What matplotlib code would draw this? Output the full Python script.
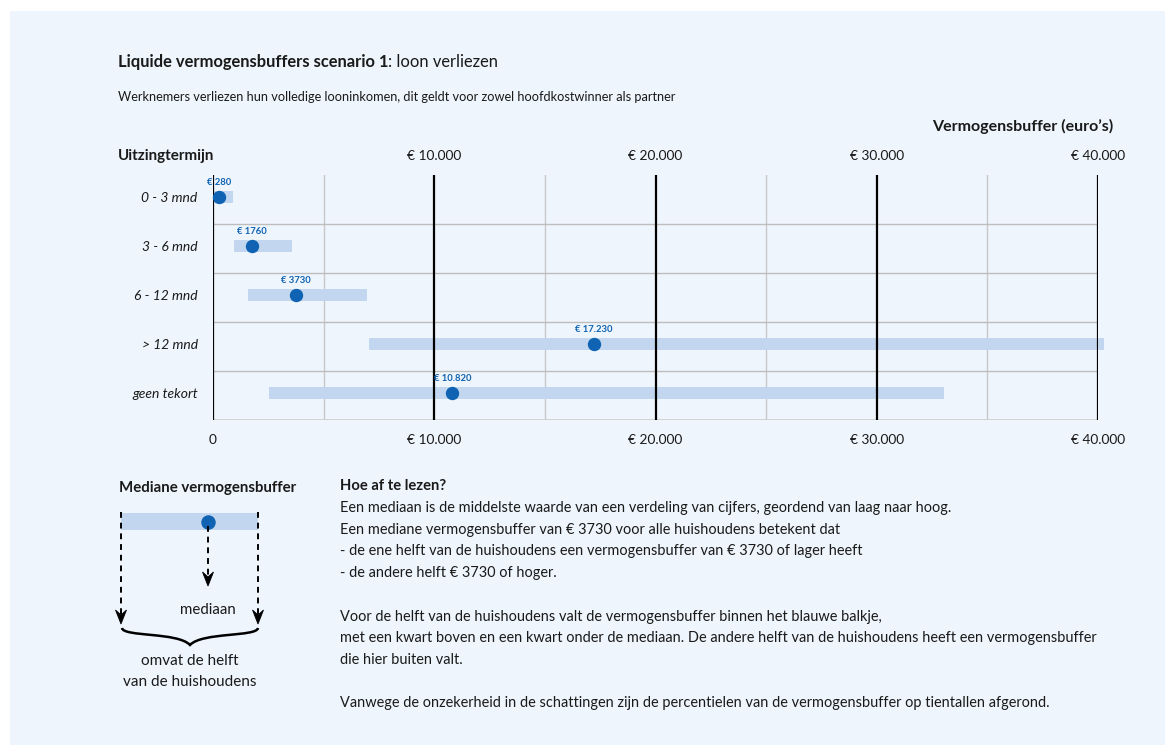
import matplotlib
matplotlib.use("Agg")
import matplotlib.pyplot as plt
from matplotlib.patches import Rectangle, Polygon, PathPatch
from matplotlib.path import Path

# ---------------- data ----------------
categories = ["0 - 3 mnd", "3 - 6 mnd", "6 - 12 mnd", "> 12 mnd", "geen tekort"]
lower = [0, 950, 1580, 7050, 2530]
upper = [900, 3570, 6960, 40260, 33030]
median = [280, 1760, 3730, 17230, 10820]
major_ticks = [0, 10000, 20000, 30000, 40000]
major_labels = ["0", "€ 10.000", "€ 20.000", "€ 30.000", "€ 40.000"]
minor_grid = [5000, 15000, 25000, 35000]

title_bold = "Liquide vermogensbuffers scenario 1"
title_rest = ": loon verliezen"
subtitle = "Werknemers verliezen hun volledige looninkomen, dit geldt voor zowel hoofdkostwinner als partner"
explain_title = "Hoe af te lezen?"
explain_lines = [
    "Een mediaan is de middelste waarde van een verdeling van cijfers, geordend van laag naar hoog.",
    "Een mediane vermogensbuffer van € 3730 voor alle huishoudens betekent dat",
    "- de ene helft van de huishoudens een vermogensbuffer van € 3730 of lager heeft",
    "- de andere helft € 3730 of hoger.",
    "",
    "Voor de helft van de huishoudens valt de vermogensbuffer binnen het blauwe balkje,",
    "met een kwart boven en een kwart onder de mediaan. De andere helft van de huishoudens heeft een vermogensbuffer",
    "die hier buiten valt.",
    "",
    "Vanwege de onzekerheid in de schattingen zijn de percentielen van de vermogensbuffer op tientallen afgerond.",
]

BG = "#EEF5FC"
BAR = "#C2D7EF"
DOT = "#0F63B2"
TXT = "#1a1a1a"

plt.rcParams["font.family"] = ["Lato", "DejaVu Sans"]

W, H = 1175, 756
fig = plt.figure(figsize=(W / 100, H / 100), dpi=100)
fig.patch.set_facecolor("white")
fig.add_artist(Rectangle((10 / W, (H - 745) / H), (1165 - 10) / W, (745 - 11) / H,
                         transform=fig.transFigure, facecolor=BG, edgecolor="none", zorder=-5))

# ---------------- main chart ----------------
left_px, right_px, top_px, bot_px = 213, 1098, 175, 420
ax = fig.add_axes([left_px / W, (H - bot_px) / H, (right_px - left_px) / W, (bot_px - top_px) / H])
ax.set_facecolor("none")
n = len(categories)
ax.set_xlim(0, 40000)
ax.set_ylim(n - 0.5, -0.5)
for s in ax.spines.values():
    s.set_visible(False)

for g in minor_grid:
    ax.axvline(g, color="#c8c8c8", lw=1.0, zorder=1)
for i in range(n - 1):
    ax.axhline(i + 0.5, color="#bdbdbd", lw=1.0, zorder=1)
ax.axhline(n - 0.5, color="#cfcfcf", lw=2.0, zorder=1)
for g in major_ticks:
    ax.axvline(g, color="black", lw=1.6, zorder=3)

off = -0.06
for i in range(n):
    yc = i + off
    ax.barh(yc, upper[i] - lower[i], left=lower[i], height=0.245, color=BAR,
            edgecolor="none", zorder=2, clip_on=False)
    ax.plot(median[i], yc, "o", color=DOT, markersize=8.6, zorder=4, clip_on=False)
    v = median[i]
    lab = ("€ " + f"{v:,}".replace(",", ".")) if v >= 10000 else f"€ {v}"
    ax.text(v, yc - 0.19, lab, ha="center", va="bottom", color=DOT, fontsize=6.8,
            fontweight="bold", zorder=5)

ax.set_yticks([i + off for i in range(n)])
ax.set_yticklabels(categories, fontstyle="italic", fontsize=10, color=TXT)
ax.tick_params(axis="y", length=0, pad=11)
ax.set_xticks(major_ticks)
ax.set_xticklabels(major_labels, fontsize=9.9, color=TXT)
ax.tick_params(axis="x", length=0, pad=10)
xt = ax.get_xaxis_transform()
for g, lab in zip(major_ticks[1:], major_labels[1:]):
    ax.text(g, 1.078, lab, transform=xt, ha="center", va="center", fontsize=9.9, color=TXT)

# ---------------- overlay (pixel coordinates) ----------------
ov = fig.add_axes([0, 0, 1, 1])
ov.set_xlim(0, W)
ov.set_ylim(H, 0)
ov.axis("off")
ov.set_facecolor("none")

t1 = ov.text(118, 62, title_bold, fontsize=11.9, fontweight="bold", va="center", ha="left", color=TXT)
ov.annotate(title_rest, xy=(1, 0.5), xycoords=t1, xytext=(0, 0), textcoords="offset points",
            fontsize=11.9, va="center", ha="left", color=TXT)
ov.text(118, 97, subtitle, fontsize=9.2, va="center", ha="left", color=TXT)
ov.text(1113, 126, "Vermogensbuffer (euro’s)", fontsize=11.5, fontweight="bold", va="center", ha="right", color=TXT)
ov.text(118, 156, "Uitzingtermijn", fontsize=10.9, fontweight="bold", va="center", ha="left", color=TXT)

# legend drawing
ov.text(119, 488, "Mediane vermogensbuffer", fontsize=10.8, fontweight="bold", va="center", ha="left", color=TXT)
ov.add_patch(Rectangle((121, 513), 137, 17, facecolor=BAR, edgecolor="none"))
ov.plot([208], [522], "o", color=DOT, markersize=9.4)

def darrow(x, y0, y1):
    ov.plot([x, x], [y0, y1 - 8], color="black", lw=1.4, linestyle=(0, (3, 2.5)))
    ov.add_patch(Polygon([(x, y1), (x - 5.5, y1 - 14), (x, y1 - 9), (x + 5.5, y1 - 14)],
                         closed=True, facecolor="black", edgecolor="black", lw=0.6))

darrow(121, 512, 624)
darrow(258, 512, 624)
darrow(208, 526, 586)
ov.text(208, 610, "mediaan", fontsize=10.8, ha="center", va="center", color=TXT)

verts = [(122, 628), (123, 637), (178, 632), (190, 645),
         (202, 632), (257, 637), (258, 628)]
codes = [Path.MOVETO, Path.CURVE4, Path.CURVE4, Path.CURVE4,
         Path.CURVE4, Path.CURVE4, Path.CURVE4]
ov.add_patch(PathPatch(Path(verts, codes), facecolor="none", edgecolor="black", lw=1.8))
ov.text(190, 661, "omvat de helft", fontsize=11, ha="center", va="center", color=TXT)
ov.text(190, 682, "van de huishoudens", fontsize=11, ha="center", va="center", color=TXT)

# explanation text
ov.text(340, 486, explain_title, fontsize=10.6, fontweight="bold", va="center", ha="left", color=TXT)
y = 508
for line in explain_lines:
    if line:
        ov.text(340, y, line, fontsize=10.45, va="center", ha="left", color=TXT)
    y += 21.7

fig.savefig("out.png", dpi=100, facecolor=fig.get_facecolor())
